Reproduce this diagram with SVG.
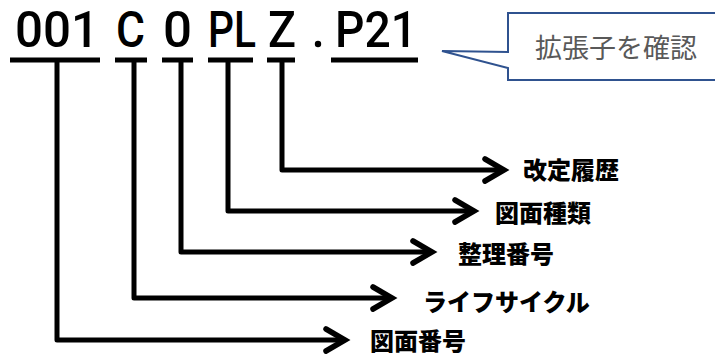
<svg xmlns="http://www.w3.org/2000/svg" width="715" height="356" viewBox="0 0 715 356">
<style>
.code{font-family:Roboto,"Liberation Sans",sans-serif;font-weight:500;font-size:50px;fill:#000}
.ul{stroke:#000;stroke-width:5;fill:none}
.conn{stroke:#000;stroke-width:5;fill:none;stroke-linejoin:round}
.lbl{font-family:"Noto Sans CJK JP",sans-serif;font-weight:900;font-size:24px;fill:#000}
.call{font-family:"Noto Sans CJK JP",sans-serif;font-size:27px;fill:#595959}
</style>
<defs>
<marker id="chev" markerUnits="userSpaceOnUse" markerWidth="40" markerHeight="40" viewBox="-30 -20 40 40" refX="0" refY="0" orient="auto">
<path d="M-19,-11 L0,0 L-19,11" fill="none" stroke="#000" stroke-width="5.5" stroke-linecap="round" stroke-linejoin="miter"/>
</marker>
</defs>
<rect width="715" height="356" fill="#fff"/>
<g id="code">
<text class="code" x="15" y="47" textLength="84" lengthAdjust="spacingAndGlyphs">001</text>
<text class="code" x="116" y="47" textLength="29" lengthAdjust="spacingAndGlyphs">C</text>
<text class="code" x="163" y="47" textLength="29" lengthAdjust="spacingAndGlyphs">0</text>
<text class="code" x="208" y="47" textLength="48" lengthAdjust="spacingAndGlyphs">PL</text>
<text class="code" x="268" y="47" textLength="28" lengthAdjust="spacingAndGlyphs">Z</text>
<circle cx="318" cy="44" r="3.2" fill="#000"/>
<text class="code" x="335" y="47" textLength="82" lengthAdjust="spacingAndGlyphs">P21</text>
<line class="ul" x1="10" y1="60" x2="100" y2="60"/>
<line class="ul" x1="115" y1="60" x2="147" y2="60"/>
<line class="ul" x1="162" y1="60" x2="193" y2="60"/>
<line class="ul" x1="208" y1="60" x2="253" y2="60"/>
<line class="ul" x1="267" y1="60" x2="295" y2="60"/>
<line class="ul" x1="331" y1="60" x2="418" y2="60"/>
</g>
<g id="callout">
<path d="M508,13 L725,13 L725,80 L508,80 L508,68 L442,51 L508,52 Z" fill="#fff" stroke="#2F528F" stroke-width="2"/>
<text class="call" x="616" y="58" text-anchor="middle">拡張子を確認</text>
</g>
<g id="connectors">
<polyline class="conn" points="282,60 282,170 504,170" marker-end="url(#chev)"/>
<polyline class="conn" points="228,60 228,211 474,211" marker-end="url(#chev)"/>
<polyline class="conn" points="181,60 181,252 432,252" marker-end="url(#chev)"/>
<polyline class="conn" points="134,60 134,298 392,298" marker-end="url(#chev)"/>
<polyline class="conn" points="57,60 57,340 345,340" marker-end="url(#chev)"/>
</g>
<g id="n-rev"><text class="lbl" x="523" y="179">改定履歴</text></g>
<g id="n-type"><text class="lbl" x="495" y="222">図面種類</text></g>
<g id="n-seq"><text class="lbl" x="458" y="263">整理番号</text></g>
<g id="n-life"><text class="lbl" x="423" y="311">ライフサイクル</text></g>
<g id="n-num"><text class="lbl" x="370" y="350">図面番号</text></g>
</svg>
